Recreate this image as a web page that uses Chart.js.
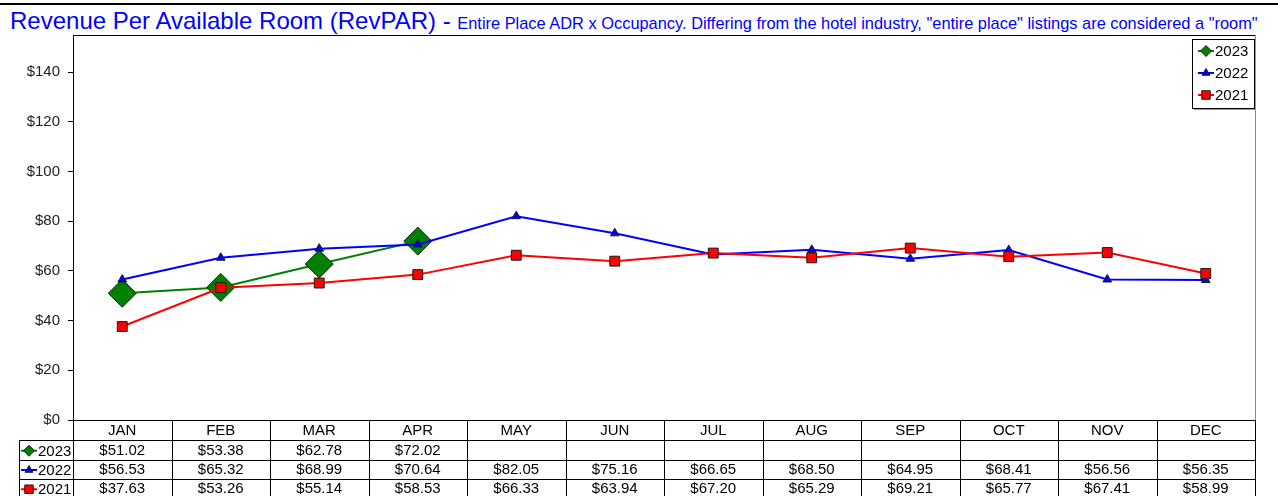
<!DOCTYPE html>
<html>
<head>
<meta charset="utf-8">
<script src="https://cdn.jsdelivr.net/npm/chart.js@4.4.0/dist/chart.umd.min.js"></script>
<style>
  body { margin: 0; background: #fff; width: 1278px; height: 496px; overflow: hidden; position: relative; font-family: Arial, "Liberation Sans", sans-serif; }
  #topline { position: absolute; left: 0; top: 3px; width: 1278px; border-top: 2px solid #000; }
  #title { position: absolute; left: 10px; top: 7px; line-height: 28px; color: #0000ff; white-space: nowrap; }
  #title .main { font-size: 24px; }
  #title .sub { font-size: 16.4px; }
  #wrap { position: absolute; left: 0; top: 0; width: 1278px; height: 496px; }
</style>
</head>
<body>
<div id="topline"></div>
<div id="title"><span class="main">Revenue Per Available Room (RevPAR) - </span><span class="sub">Entire Place ADR x Occupancy. Differing from the hotel industry, "entire place" listings are considered a "room"</span></div>
<div id="wrap"><canvas id="revparChart"></canvas></div>
<script>
// Data
const months = ["JAN", "FEB", "MAR", "APR", "MAY", "JUN", "JUL", "AUG", "SEP", "OCT", "NOV", "DEC"];
const rev2023 = [51.02, 53.38, 62.78, 72.02, null, null, null, null, null, null, null, null];
const rev2022 = [56.53, 65.32, 68.99, 70.64, 82.05, 75.16, 66.65, 68.50, 64.95, 68.41, 56.56, 56.35];
const rev2021 = [37.63, 53.26, 55.14, 58.53, 66.33, 63.94, 67.20, 65.29, 69.21, 65.77, 67.41, 58.99];
const yTicks = [0, 20, 40, 60, 80, 100, 120, 140];

const FONT = "15px Arial, 'Liberation Sans', sans-serif";

function money(v) {
    return v == null ? "" : "$" + v.toFixed(2);
}

// draw a marker the same way Chart.js draws the points
function marker(ctx, ds, x, y, r) {
    ctx.save();
    ctx.fillStyle = ds.pointBackgroundColor;
    ctx.strokeStyle = ds.pointBorderColor;
    ctx.lineWidth = 1;
    Chart.helpers.drawPoint(ctx, { pointStyle: ds.pointStyle, rotation: 0, radius: r, borderWidth: 1 }, x, y);
    ctx.restore();
}

function legendItem(ctx, ds, x, y, r) {
    ctx.save();
    ctx.strokeStyle = ds.borderColor;
    ctx.lineWidth = 2;
    ctx.beginPath();
    ctx.moveTo(x - 8, y);
    ctx.lineTo(x + 8, y);
    ctx.stroke();
    ctx.restore();
    marker(ctx, ds, x, y, r);
    ctx.fillStyle = "#000";
    ctx.font = FONT;
    ctx.textAlign = "left";
    ctx.textBaseline = "middle";
    ctx.fillText(ds.label, x + 9, y + 1);
}

const legendSizes = { "2023": 5.5, "2022": 4.5, "2021": 6 };

const tablePlugin = {
    id: "tablePlugin",
    afterDraw(chart) {
        const ctx = chart.ctx;
        const area = chart.chartArea;
        const x = chart.scales.x;
        const colW = (area.right - area.left) / months.length;

        // plot frame (top black, right grey)
        ctx.save();
        ctx.lineWidth = 1;
        ctx.strokeStyle = "#000";
        ctx.beginPath();
        ctx.moveTo(area.left, area.top + 0.5);
        ctx.lineTo(area.right, area.top + 0.5);
        ctx.stroke();
        ctx.strokeStyle = "#888";
        ctx.beginPath();
        ctx.moveTo(area.right + 0.5, area.top);
        ctx.lineTo(area.right + 0.5, area.bottom);
        ctx.stroke();

        // legend box in the top right corner
        const lx = 1192, ly = 39, lw = 62, lh = 69;
        ctx.fillStyle = "#fff";
        ctx.fillRect(lx, ly, lw, lh);
        ctx.strokeStyle = "#999";
        ctx.lineWidth = 2;
        ctx.beginPath();
        ctx.moveTo(lx + lw + 1, ly + 2);
        ctx.lineTo(lx + lw + 1, ly + lh + 1);
        ctx.lineTo(lx + 2, ly + lh + 1);
        ctx.stroke();
        ctx.strokeStyle = "#000";
        ctx.lineWidth = 1;
        ctx.strokeRect(lx + 0.5, ly + 0.5, lw, lh);
        ctx.restore();
        chart.data.datasets.forEach(function(ds, i) {
            legendItem(ctx, ds, 1206, 51 + i * 22, legendSizes[ds.label]);
        });

        // data table
        const rows = [area.bottom, area.bottom + 20, area.bottom + 39.5, area.bottom + 58.5, area.bottom + 78];
        const tableLeft = 19;
        ctx.save();
        ctx.strokeStyle = "#000";
        ctx.lineWidth = 1;
        ctx.beginPath();
        for (let r = 1; r < rows.length; r++) {
            ctx.moveTo(tableLeft, Math.round(rows[r]) + 0.5);
            ctx.lineTo(area.right, Math.round(rows[r]) + 0.5);
        }
        ctx.moveTo(tableLeft + 0.5, rows[1]);
        ctx.lineTo(tableLeft + 0.5, rows[4]);
        for (let c = 0; c <= months.length; c++) {
            const cx = Math.round(area.left + c * colW) + 0.5;
            ctx.moveTo(cx, rows[0]);
            ctx.lineTo(cx, rows[4]);
        }
        ctx.stroke();

        ctx.fillStyle = "#000";
        ctx.font = FONT;
        ctx.textAlign = "center";
        ctx.textBaseline = "middle";
        months.forEach(function(m, i) {
            const cx = x.getPixelForValue(i);
            ctx.fillText(m, cx, (rows[0] + rows[1]) / 2 + 1);
        });
        ctx.restore();

        chart.data.datasets.forEach(function(ds, r) {
            const cy = (rows[r + 1] + rows[r + 2]) / 2 + 1;
            legendItem(ctx, ds, 29, cy, legendSizes[ds.label]);
            ctx.fillStyle = "#000";
            ctx.font = FONT;
            ctx.textAlign = "center";
            ctx.textBaseline = "middle";
            ds.data.forEach(function(v, i) {
                ctx.fillText(money(v), x.getPixelForValue(i), cy);
            });
        });
    }
};

const ctx = document.getElementById("revparChart").getContext("2d");
const revparChart = new Chart(ctx, {
    type: "line",
    data: {
        labels: months,
        datasets: [{
            label: "2023",
            data: rev2023,
            borderColor: "#008000",
            borderWidth: 2,
            pointStyle: "rectRot",
            pointRadius: 14,
            pointBackgroundColor: "#008000",
            pointBorderColor: "#1a1a1a",
            pointBorderWidth: 1,
            order: 3
        }, {
            label: "2022",
            data: rev2022,
            borderColor: "#0000ff",
            borderWidth: 2,
            pointStyle: "triangle",
            pointRadius: 5,
            pointBackgroundColor: "#0000ff",
            pointBorderColor: "#1a1a1a",
            pointBorderWidth: 1,
            order: 2
        }, {
            label: "2021",
            data: rev2021,
            borderColor: "#ff0000",
            borderWidth: 2,
            pointStyle: "rect",
            pointRadius: 7,
            pointBackgroundColor: "#ff0000",
            pointBorderColor: "#1a1a1a",
            pointBorderWidth: 1,
            order: 1
        }]
    },
    options: {
        responsive: true,
        maintainAspectRatio: false,
        animation: false,
        spanGaps: false,
        layout: { padding: { left: 0, top: 35, right: 23, bottom: 76 } },
        plugins: {
            legend: { display: false },
            title: { display: false },
            tooltip: { enabled: false }
        },
        scales: {
            x: {
                offset: true,
                grid: { display: false },
                border: { display: true, color: "#000", width: 1 },
                ticks: { display: false },
                afterFit: function(scale) { scale.height = 0; }
            },
            y: {
                min: 0,
                max: 155,
                afterBuildTicks: function(scale) {
                    scale.ticks = yTicks.map(v => ({ value: v }));
                },
                afterFit: function(scale) { scale.width = 73; },
                grid: { drawOnChartArea: false, drawTicks: true, tickLength: 5, color: "#000" },
                border: { display: true, color: "#000", width: 1 },
                ticks: {
                    color: "#222",
                    font: { family: "Arial, 'Liberation Sans', sans-serif", size: 15 },
                    padding: 8,
                    callback: function(v) { return "$" + v; }
                }
            }
        }
    },
    plugins: [tablePlugin]
});
</script>
</body>
</html>
